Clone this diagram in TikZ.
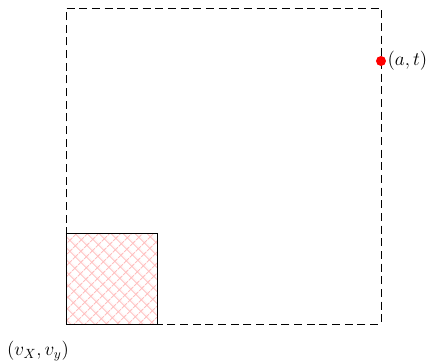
\documentclass[tikz,border=0pt]{standalone}
\usetikzlibrary{patterns.meta}
\begin{document}
\begin{tikzpicture}[x=0.75pt,y=0.75pt,
  bigbox/.style={draw=black,line width=0.65pt,dash pattern=on 6pt off 3.5pt},
  smallbox/.style={draw=black,line width=0.65pt,pattern={Hatch[angle=45,distance=6.5pt,line width=0.9pt]},pattern color=red!25},
  lbl/.style={font=\fontsize{14}{16}\selectfont,inner sep=1pt}]
\useasboundingbox (0,0) rectangle (430,362);
\coordinate (bl) at (66,38);
\coordinate (tr) at (381,354);
\draw[bigbox] (bl) rectangle (tr);
\draw[smallbox] (bl) rectangle (157,129);
\fill[red] (381,301) circle (5);
\node[lbl,anchor=west] (at) at (386,301) {$(a,t)$};
\node[lbl] (v) at (38,11) {$(v_X,v_y)$};
\end{tikzpicture}
\end{document}
